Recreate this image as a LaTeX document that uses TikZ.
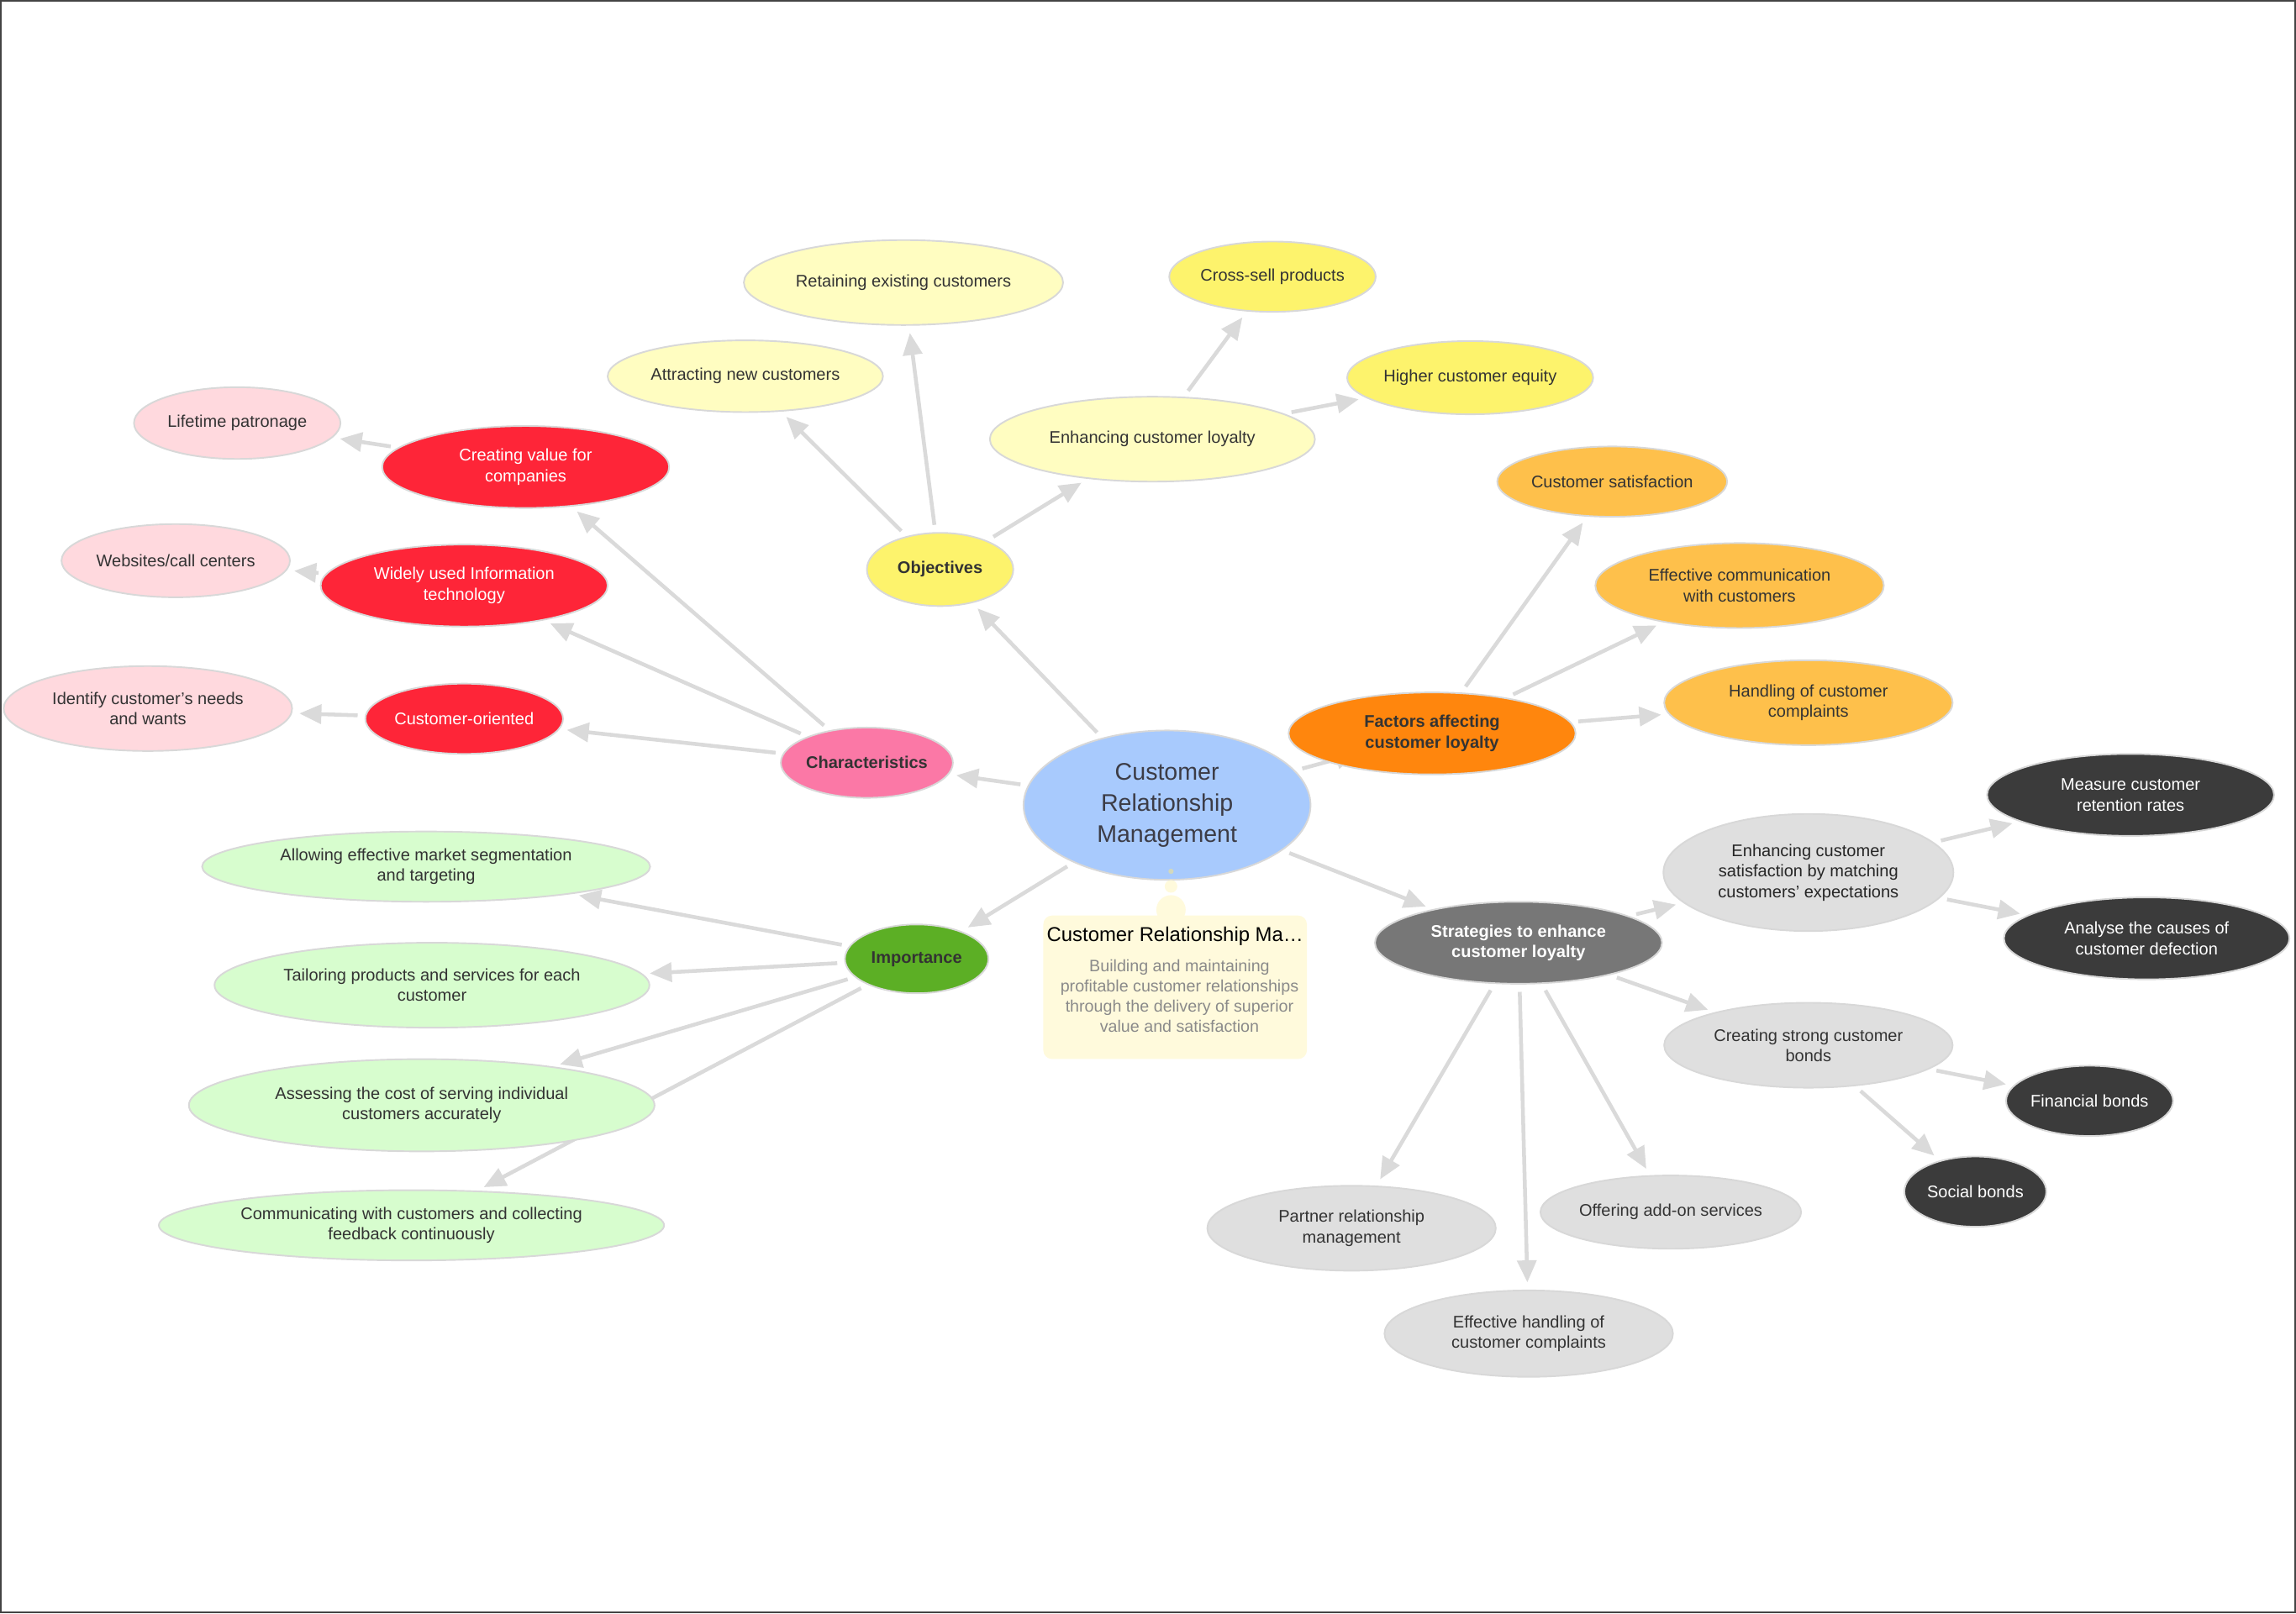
\documentclass[tikz,border=0pt]{standalone}
\usepackage{fontspec}
\setmainfont{Liberation Sans}
\usetikzlibrary{arrows.meta, shapes.geometric, backgrounds}
\definecolor{crmblue}{HTML}{A8CAFD}
\definecolor{crmink}{HTML}{3C3C46}
\definecolor{inkgray}{HTML}{333333}
\definecolor{rimgray}{HTML}{D8D8D8}
\definecolor{linkgray}{HTML}{DADADA}
\definecolor{framegray}{HTML}{444444}
\definecolor{sunyellow}{HTML}{FDF36C}
\definecolor{paleyellow}{HTML}{FFFDC1}
\definecolor{hotpink}{HTML}{FB78A6}
\definecolor{brightred}{HTML}{FE2538}
\definecolor{palepink}{HTML}{FFD9DE}
\definecolor{leafgreen}{HTML}{5CAF25}
\definecolor{palegreen}{HTML}{D7FDCE}
\definecolor{deeporange}{HTML}{FF860D}
\definecolor{softorange}{HTML}{FEC04B}
\definecolor{midgray}{HTML}{777777}
\definecolor{lightgray}{HTML}{DFDFDF}
\definecolor{coalgray}{HTML}{3B3B3B}
\definecolor{notefill}{HTML}{FFFADC}
\definecolor{notedot}{HTML}{D2D8BE}
\definecolor{notetext}{HTML}{8A8A8A}

\begin{document}
\begin{tikzpicture}[
    x=1pt, y=-1pt,
    bubble/.style={
      ellipse, draw=rimgray, line width=1.1pt, inner sep=0pt,
      align=center, text=inkgray, font=\fontsize{11.5}{14}\selectfont
    },
    sz/.style 2 args={minimum width=#1, minimum height=#2},
    hub/.style={bubble, font=\fontsize{11.5}{14}\selectfont\bfseries},
    objleaf/.style={bubble, fill=paleyellow},
    objtip/.style={bubble, fill=sunyellow},
    chrleaf/.style={bubble, fill=brightred, text=white},
    chrtip/.style={bubble, fill=palepink},
    impleaf/.style={bubble, fill=palegreen},
    facleaf/.style={bubble, fill=softorange},
    strleaf/.style={bubble, fill=lightgray},
    strtip/.style={bubble, fill=coalgray, text=white},
    notebox/.style={
      rectangle, rounded corners=6pt, fill=notefill,
      minimum width=180, minimum height=98
    },
    link/.style={
      color=linkgray, line width=2.6pt,
      -{Triangle[length=15pt, width=13pt]},
      shorten <=5pt, shorten >=5pt
    }
  ]
    \useasboundingbox (0,0) rectangle (1568,1102);

    % centre topic
    \node[bubble, sz={196}{102}, fill=crmblue, text=crmink,
          font=\fontsize{16.4}{21.2}\selectfont]
          (crm) at (797,550) {Customer\\Relationship\\Management};

    % objectives
    \node[hub, sz={100}{50}, fill=sunyellow]  (obj) at (642,389) {Objectives};
    \node[objleaf, sz={218}{58}] (ret) at (617,193) {Retaining existing customers};
    \node[objleaf, sz={188}{49}] (att) at (509,257) {Attracting new customers};
    \node[objleaf, sz={222}{58}] (enl) at (787,300) {Enhancing customer loyalty};
    \node[objtip,  sz={141}{48}] (crs) at (869,189) {Cross-sell products};
    \node[objtip,  sz={168}{50}] (heq) at (1004,258) {Higher customer equity};

    % characteristics
    \node[hub, sz={117}{48}, fill=hotpink] (chr) at (592,521) {Characteristics};
    \node[chrleaf, sz={196}{56}] (cvc) at (359,319) {Creating value for\\companies};
    \node[chrleaf, sz={196}{56}] (wit) at (317,400) {Widely used Information\\technology};
    \node[chrleaf, sz={135}{48}] (cor) at (317,491) {Customer-oriented};
    \node[chrtip,  sz={141}{49}] (ltp) at (162,289) {Lifetime patronage};
    \node[chrtip,  sz={156}{50}] (web) at (120,383) {Websites/call centers};
    \node[chrtip,  sz={197}{58}] (idn) at (101,484) {Identify customer's needs\\and wants};

    % importance
    \node[hub, sz={98}{47}, fill=leafgreen] (imp) at (626,655) {Importance};
    \node[impleaf, sz={306}{48}] (alw) at (291,592) {Allowing effective market segmentation\\and targeting};
    \node[impleaf, sz={297}{58}] (tlr) at (295,673) {Tailoring products and services for each\\customer};
    \node[impleaf, sz={318}{63}] (ass) at (288,755) {Assessing the cost of serving individual\\customers accurately};
    \node[impleaf, sz={345}{48}] (com) at (281,837) {Communicating with customers and collecting\\feedback continuously};

    % factors affecting loyalty
    \node[hub, sz={196}{56}, fill=deeporange] (fac) at (978,501) {Factors affecting\\customer loyalty};
    \node[facleaf, sz={157}{48}] (csat) at (1101,329) {Customer satisfaction};
    \node[facleaf, sz={197}{58}] (ecom) at (1188,400) {Effective communication\\with customers};
    \node[facleaf, sz={197}{58}] (hcc)  at (1235,480) {Handling of customer\\complaints};

    % strategies
    \node[hub, sz={196}{56}, fill=midgray, text=white] (str) at (1037,644) {Strategies to enhance\\customer loyalty};
    \node[strleaf, sz={198}{80}, text=black!85] (esat) at (1235,596) {Enhancing customer\\satisfaction by matching\\customers' expectations};
    \node[strtip,  sz={196}{56}] (mcr) at (1455,543) {Measure customer\\retention rates};
    \node[strtip,  sz={195}{56}] (acd) at (1466,641) {Analyse the causes of\\customer defection};
    \node[strleaf, sz={197}{58}] (csb) at (1235,714) {Creating strong customer\\bonds};
    \node[strtip,  sz={114}{48}] (fin) at (1427,752) {Financial bonds};
    \node[strtip,  sz={97}{48}]  (soc) at (1349,814) {Social bonds};
    \node[strleaf, sz={197}{58}] (prm) at (923,839) {Partner relationship\\management};
    \node[strleaf, sz={178}{50}] (oas) at (1141,828) {Offering add-on services};
    \node[strleaf, sz={197}{59}] (ehc) at (1044,911) {Effective handling of\\customer complaints};

    % note attached to the centre topic
    \fill[notedot]  (799.7,595.2) circle (1.8pt);
    \fill[notefill] (799.7,605.5) circle (4.3pt);
    \fill[notefill] (799.7,621.5) circle (10pt);
    \node[notebox] (note) at (802.5,674.4) {};
    \node[font=\fontsize{13.7}{16}\selectfont, text=black]
          (notehead) at (802.5,639.5) {Customer Relationship Ma\ldots};
    \node[align=center, text=notetext, font=\fontsize{11.3}{13.8}\selectfont]
          (notebody) at (805.5,680.5) {Building and maintaining\\profitable customer relationships\\through the delivery of superior\\value and satisfaction};

    \begin{scope}[on background layer]
      \fill[white] (0,0) rectangle (1568,1102);
      \draw[link] (crm) edge (obj);
      \draw[link] (crm) edge (chr);
      \draw[link] (crm) edge (imp);
      \draw[link, shorten >=-22pt] (crm) edge (fac);
      \draw[link] (crm) edge (str);
      \draw[link] (obj) edge (att);
      \draw[link] (obj) edge (ret);
      \draw[link] (obj) edge (enl);
      \draw[link] (enl) edge (crs);
      \draw[link] (enl) edge (heq);
      \draw[link] (chr) edge (cvc);
      \draw[link] (chr) edge (wit);
      \draw[link] (chr) edge (cor);
      \draw[link] (cvc) edge (ltp);
      \draw[link] (wit) edge (web);
      \draw[link] (cor) edge (idn);
      \draw[link] (imp) edge (alw);
      \draw[link] (imp) edge (tlr);
      \draw[link] (imp) edge (ass);
      \draw[link] (imp) edge (com);
      \draw[link] (fac) edge (csat);
      \draw[link] (fac) edge (ecom);
      \draw[link] (fac) edge (hcc);
      \draw[link] (str) edge (esat);
      \draw[link] (str) edge (csb);
      \draw[link] (str) edge (prm);
      \draw[link] (str) edge (ehc);
      \draw[link] (str) edge (oas);
      \draw[link] (esat) edge (mcr);
      \draw[link] (esat) edge (acd);
      \draw[link] (csb) edge (fin);
      \draw[link] (csb) edge (soc);
    \end{scope}

    \draw[framegray, line width=1.2pt] (0.6,0.6) rectangle (1567.4,1101.4);
  \end{tikzpicture}
\end{document}
